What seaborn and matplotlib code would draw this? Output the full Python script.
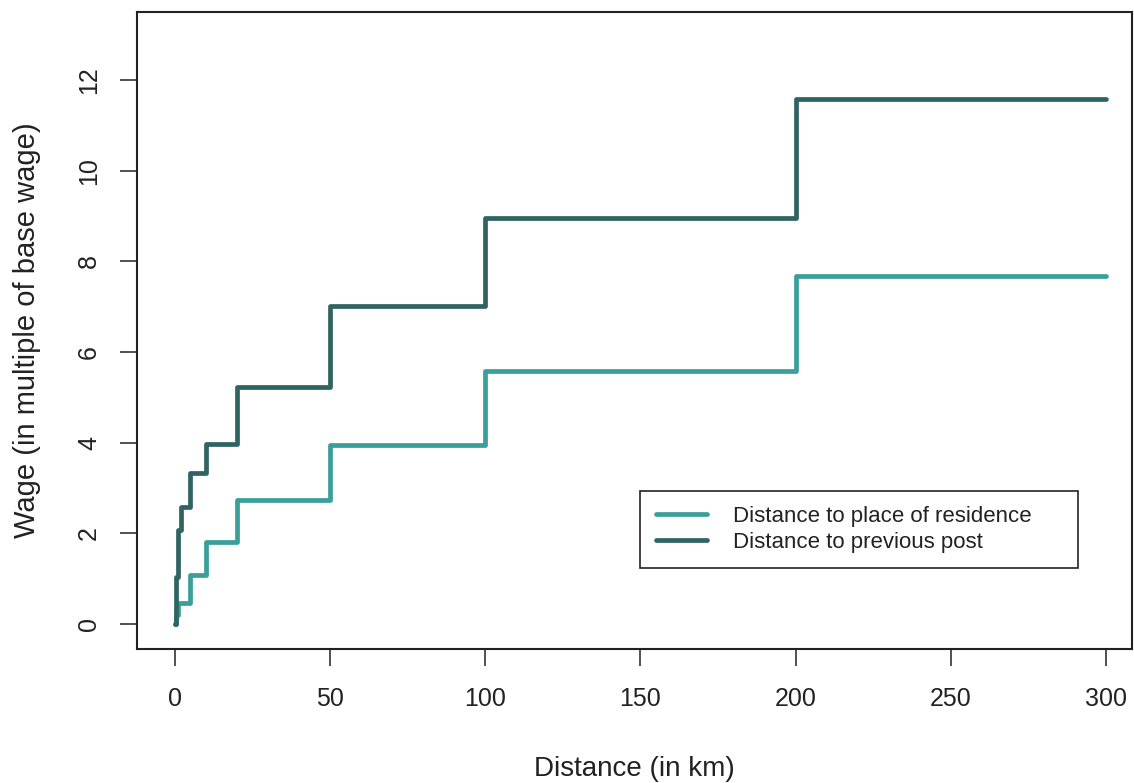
import numpy as np
import pandas as pd
import matplotlib
matplotlib.use("Agg")
import matplotlib.pyplot as plt
import seaborn as sns

# Data
distance = [0, 0.5, 1, 2, 5, 10, 20, 50, 100, 200, 300]
wage_residence = [0, 0.20, 0.46, 0.46, 1.08, 1.82, 2.73, 3.95, 5.58, 7.67, 7.67]
wage_previous = [0, 1.04, 2.07, 2.58, 3.33, 3.97, 5.23, 7.02, 8.95, 11.58, 11.58]
series_names = ["Distance to place of residence", "Distance to previous post"]
colors = ["#3a9e9a", "#2f6462"]
x_ticks = [0, 50, 100, 150, 200, 250, 300]
y_ticks = [0, 2, 4, 6, 8, 10, 12]

df = pd.concat([
    pd.DataFrame({"distance": distance, "wage": wage_residence, "series": series_names[0]}),
    pd.DataFrame({"distance": distance, "wage": wage_previous, "series": series_names[1]}),
], ignore_index=True)

sns.set_theme(style="white")
plt.rcParams["font.family"] = ["Liberation Sans", "DejaVu Sans"]

fig = plt.figure(figsize=(11.34, 7.83), dpi=100)
ax = fig.add_axes([137/1134, 1 - 649/783, (1132-137)/1134, (649-12)/783])

sns.lineplot(data=df, x="distance", y="wage", hue="series", palette=colors,
             hue_order=series_names, estimator=None, sort=False,
             drawstyle="steps-post", linewidth=3.4, ax=ax, legend=True)

ax.set_xlim(-12.2, 308.4)
ax.set_ylim(-0.55, 13.5)
ax.set_xticks(x_ticks)
ax.set_yticks(y_ticks)
ax.set_xticklabels([str(v) for v in x_ticks], fontsize=18)
ax.set_yticklabels([str(v) for v in y_ticks], fontsize=18, rotation=90, va="center")
ax.tick_params(axis="both", which="major", length=12, width=1.2, color="#333333",
               direction="out", bottom=True, left=True, labelcolor="#222222")
ax.tick_params(axis="x", pad=15.5)
ax.tick_params(axis="y", pad=14)
for s in ax.spines.values():
    s.set_color("#222222")
    s.set_linewidth(1.5)
    s.set_visible(True)

ax.set_xlabel("Distance (in km)", fontsize=20, color="#222222", labelpad=32)
ax.set_ylabel("Wage (in multiple of base wage)", fontsize=21, color="#222222", labelpad=26)

leg = ax.legend(loc="lower left", bbox_to_anchor=(0.5055, 0.127, 0.44, 0.124),
                mode="expand", fontsize=16,
                frameon=True, fancybox=False, edgecolor="#222222", framealpha=1,
                handlelength=2.3, borderpad=0.7, labelspacing=0.2, handletextpad=1.2,
                borderaxespad=0)
leg.get_frame().set_linewidth(1.2)
for t in leg.get_texts():
    t.set_color("#222222")

fig.savefig("out.png", dpi=100)
